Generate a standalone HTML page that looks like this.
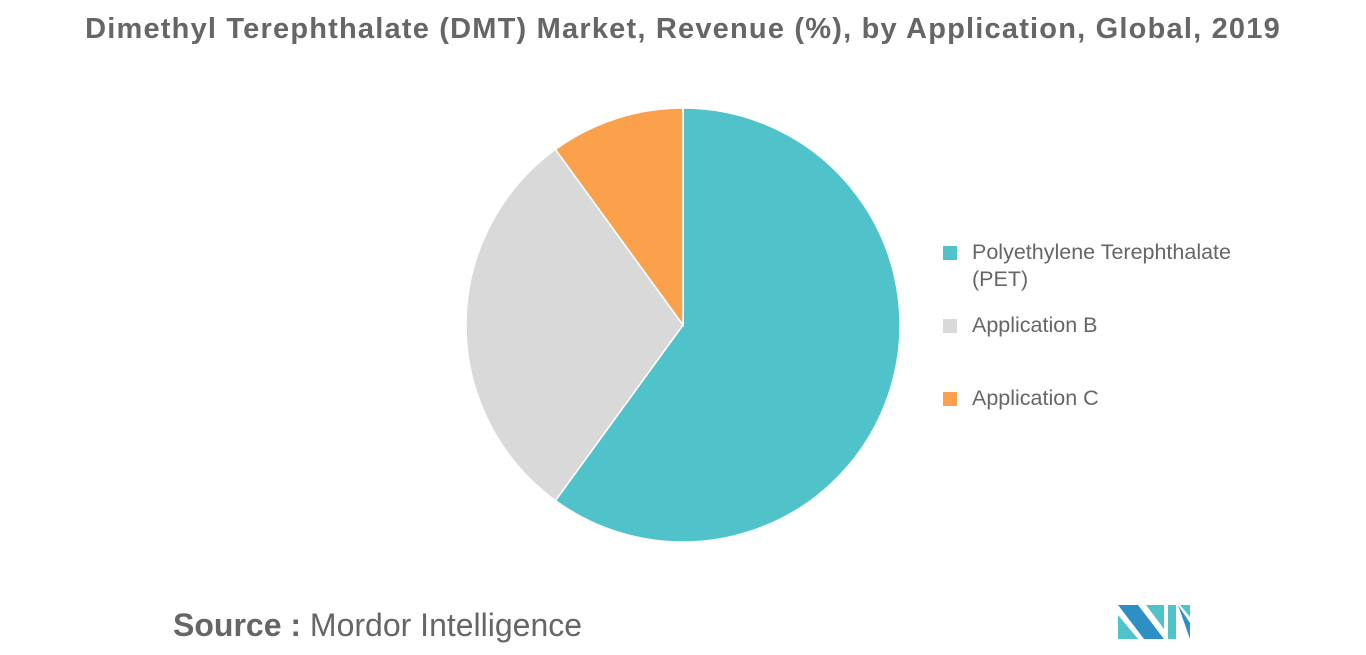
<!DOCTYPE html>
<html><head><meta charset="utf-8"><style>
body{margin:0;width:1366px;height:655px;background:#fff;font-family:"Liberation Sans",sans-serif;overflow:hidden;position:relative}
.t{position:absolute;left:0;width:1366px;top:13px;text-align:center;font-size:29px;letter-spacing:1.2px;font-weight:bold;color:#666;white-space:nowrap}
.leg{position:absolute;left:943px;font-size:21.5px;color:#666;line-height:27px;white-space:nowrap}
.sw{position:absolute;left:943px;width:14px;height:14px}
.src{position:absolute;left:173px;top:607px;font-size:32px;color:#666;white-space:nowrap}
</style></head><body>
<div class="t">Dimethyl Terephthalate (DMT) Market, Revenue (%), by Application, Global, 2019</div>
<svg id="pie" width="1366" height="655" style="position:absolute;left:0;top:0"></svg>
<div class="sw" style="top:246px;background:#4fc3c9"></div>
<div class="leg" style="top:239px;left:972px">Polyethylene Terephthalate<br>(PET)</div>
<div class="sw" style="top:319px;background:#d9d9d9"></div>
<div class="leg" style="top:312px;left:972px">Application B</div>
<div class="sw" style="top:392px;background:#fba14b"></div>
<div class="leg" style="top:385px;left:972px">Application C</div>
<div class="src"><b>Source :</b> Mordor Intelligence</div>
<svg width="80" height="40" style="position:absolute;left:1116px;top:603px">
<polygon points="2,2 22,2 48,36 28,36" fill="#2e8fc5"/>
<polygon points="2,12 22,36 2,36" fill="#4fc3c9"/>
<polygon points="30,2 48,2 48,26" fill="#4fc3c9"/>
<polygon points="52,2 60,2 60,36 52,36" fill="#4fc3c9"/>
<polygon points="62,2 74,20 74,36" fill="#2e8fc5"/>
<polygon points="64,2 74,2 74,14" fill="#4fc3c9"/>
</svg>
<script>
const categories=["Polyethylene Terephthalate (PET)","Application B","Application C"];
const values=[60,30,10];
const colors=["#4fc3c9","#d9d9d9","#fba14b"];
const svg=document.getElementById('pie');
const cx=683,cy=325,r=217;
const total=values.reduce((a,b)=>a+b,0);
let a0=0;
values.forEach((v,i)=>{
  const a1=a0+v/total*2*Math.PI;
  const x0=cx+r*Math.sin(a0),y0=cy-r*Math.cos(a0);
  const x1=cx+r*Math.sin(a1),y1=cy-r*Math.cos(a1);
  const p=document.createElementNS('http://www.w3.org/2000/svg','path');
  p.setAttribute('d',`M${cx},${cy}L${x0},${y0}A${r},${r} 0 ${a1-a0>Math.PI?1:0} 1 ${x1},${y1}Z`);
  p.setAttribute('fill',colors[i]);
  p.setAttribute('stroke','#fff');
  p.setAttribute('stroke-width','1.5');
  
  
  svg.appendChild(p);
  a0=a1;
});
</script>
</body></html>
